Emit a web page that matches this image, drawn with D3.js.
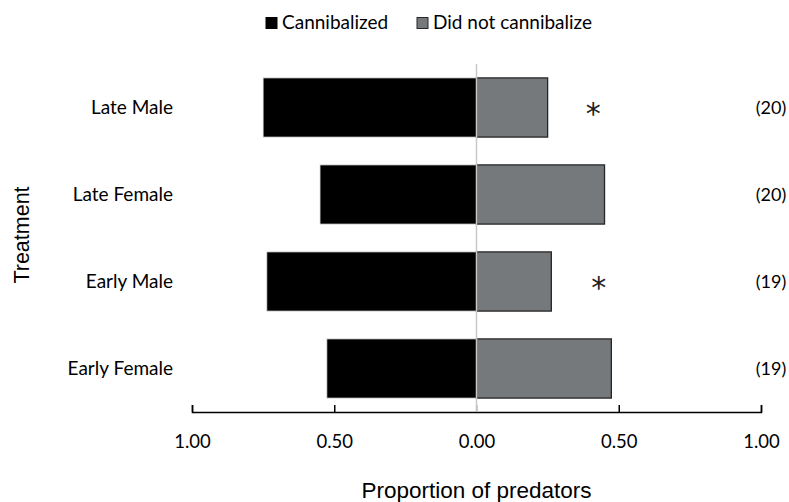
<!DOCTYPE html>
<html>
<head>
<meta charset="utf-8">
<script src="https://cdn.jsdelivr.net/npm/d3@7"></script>
<style>
  html, body { margin: 0; padding: 0; background: #fff; }
  svg { display: block; }
</style>
</head>
<body>
<svg id="chart" width="789" height="502"></svg>
<script>
// ---- data ----
const categories = ["Late Male", "Late Female", "Early Male", "Early Female"];
const cannibalized = [0.75, 0.55, 0.737, 0.526];
const didNotCannibalize = [0.25, 0.45, 0.263, 0.474];
const sampleSizes = ["(20)", "(20)", "(19)", "(19)"];
const significance = ["*", "", "*", ""];
const starPositions = [0.41, null, 0.43, null];
const tickValues = [-1, -0.5, 0, 0.5, 1];
const tickLabels = ["1.00", "0.50", "0.00", "0.50", "1.00"];
const seriesNames = ["Cannibalized", "Did not cannibalize"];

// ---- layout ----
const svg = d3.select("#chart");
const plot = { left: 192, right: 761, top: 64, bottom: 412 };
const labelFont = "Lato, 'Open Sans', sans-serif";
const colors = ["#000000", "#76797c"];

const x = d3.scaleLinear().domain([-1, 1]).range([plot.left, plot.right]);
const y = d3.scaleBand().domain(categories).range([plot.top, plot.bottom])
  .paddingInner(0.32).paddingOuter(0.16);

// bars
const g = svg.append("g");
g.selectAll("rect.c").data(categories).join("rect")
  .attr("class", "c")
  .attr("x", (d, i) => x(-cannibalized[i]))
  .attr("y", d => y(d))
  .attr("width", (d, i) => x(0) - x(-cannibalized[i]))
  .attr("height", y.bandwidth())
  .attr("fill", colors[0])
  .attr("stroke", "#d9d9d9").attr("stroke-width", 0.8);

g.selectAll("rect.n").data(categories).join("rect")
  .attr("class", "n")
  .attr("x", x(0))
  .attr("y", d => y(d))
  .attr("width", (d, i) => x(didNotCannibalize[i]) - x(0))
  .attr("height", y.bandwidth())
  .attr("fill", colors[1])
  .attr("stroke", "#262626").attr("stroke-width", 1.3);

// zero line
svg.append("line")
  .attr("x1", x(0)).attr("x2", x(0))
  .attr("y1", plot.top).attr("y2", plot.bottom)
  .attr("stroke", "#c8c8c8").attr("stroke-width", 1.5);

// x axis
const xAxis = d3.axisBottom(x).tickValues(tickValues)
  .tickFormat((d, i) => tickLabels[i]).tickSize(-7).tickPadding(23);
const ax = svg.append("g").attr("transform", `translate(0,${plot.bottom})`).call(xAxis);
ax.select(".domain").attr("stroke", "#000").attr("stroke-width", 1.5);
ax.selectAll(".tick line").attr("stroke", "#000").attr("stroke-width", 1.5);
ax.selectAll(".tick").filter(d => d === 0).select("line").attr("stroke", "#bfbfbf");
ax.selectAll(".tick text").attr("font-family", labelFont).attr("font-size", 18.5)
  .attr("fill", "#000");

// category labels
svg.append("g").selectAll("text").data(categories).join("text")
  .attr("x", 173).attr("y", d => y(d) + y.bandwidth() / 2)
  .attr("dy", "0.36em")
  .attr("text-anchor", "end")
  .attr("font-family", labelFont).attr("font-size", 19)
  .attr("fill", "#000")
  .text(d => d);

// sample sizes
svg.append("g").selectAll("text").data(categories).join("text")
  .attr("x", 771).attr("y", d => y(d) + y.bandwidth() / 2)
  .attr("dy", "0.36em")
  .attr("text-anchor", "middle")
  .attr("font-family", labelFont).attr("font-size", 18)
  .attr("fill", "#000")
  .text((d, i) => sampleSizes[i]);

// significance stars
svg.append("g").selectAll("text").data(categories.filter((d, i) => significance[i]))
  .join("text")
  .attr("x", d => x(starPositions[categories.indexOf(d)]))
  .attr("y", d => y(d) + y.bandwidth() / 2)
  .attr("dy", "0.55em")
  .attr("text-anchor", "middle")
  .attr("font-family", "'DejaVu Sans', sans-serif").attr("font-size", 30)
  .attr("fill", "#222")
  .text(d => significance[categories.indexOf(d)]);

// axis titles
svg.append("text")
  .attr("x", x(0)).attr("y", 498)
  .attr("text-anchor", "middle")
  .attr("font-family", "'Liberation Sans', Arial, sans-serif").attr("font-size", 22.5)
  .attr("fill", "#000")
  .text("Proportion of predators");

svg.append("text")
  .attr("transform", "translate(29,235) rotate(-90)")
  .attr("text-anchor", "middle")
  .attr("font-family", "'Liberation Sans', Arial, sans-serif").attr("font-size", 21.5)
  .attr("fill", "#000")
  .text("Treatment");

// legend
const legend = svg.append("g");
const legendX = [266, 417];
seriesNames.forEach((name, i) => {
  legend.append("rect")
    .attr("x", legendX[i]).attr("y", 17.5).attr("width", 11).attr("height", 11)
    .attr("fill", colors[i]).attr("stroke", i ? "#262626" : "#000").attr("stroke-width", 1);
  legend.append("text")
    .attr("x", legendX[i] + 16).attr("y", 29)
    .attr("font-family", labelFont).attr("font-size", 19)
    .attr("fill", "#000")
    .text(name);
});
</script>
</body>
</html>
